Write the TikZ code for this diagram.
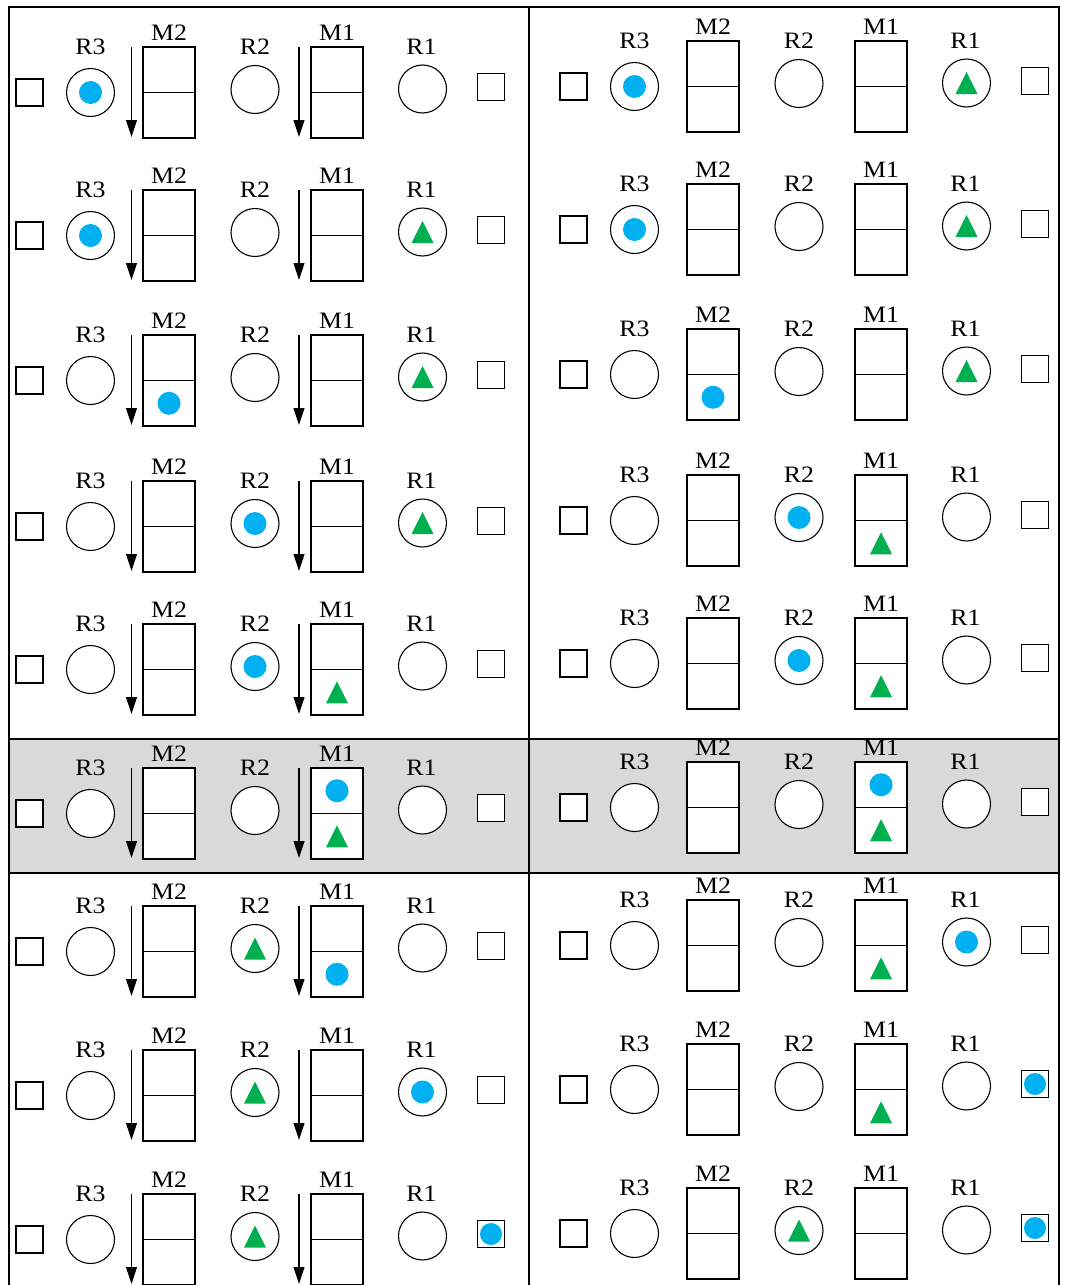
\documentclass[tikz,border=0pt]{standalone}
\usepackage{fontspec}
\setmainfont{Liberation Serif}
\newfontfamily\labfont[FakeStretch=1.1]{Liberation Serif}
\usetikzlibrary{arrows.meta}
\definecolor{bluec}{HTML}{00B0F0}
\definecolor{greenc}{HTML}{00B050}
\definecolor{bandgray}{HTML}{D9D9D9}
\tikzset{
  lw/.style={line width=1.1pt},
  sqbox/.style={lw, draw, fill=white, minimum size=27pt, inner sep=0pt},
  ring/.style={lw, draw, fill=white, circle, minimum size=48pt, inner sep=0pt},
  mcell/.style={lw, draw, fill=white, minimum width=52pt, minimum height=45.5pt, inner sep=0pt},
  lab/.style={anchor=base, inner sep=0pt, font=\labfont\fontsize{23.5}{25}\selectfont},
  flow/.style={lw, -{Triangle[length=17pt,width=11pt]}},
  frame/.style={line width=1.1pt}
}
\newcommand\bdot[1]{\fill[bluec] (#1) circle[radius=11.5];}
\newcommand\sdot[1]{\fill[bluec] (#1) circle[radius=11];}
\newcommand\gtri[1]{\fill[greenc] (#1) ++(0,-11) -- ++(11,22) -- ++(-22,0) -- cycle;}
\newcommand\panel[4]{%
 \begin{scope}[shift={(#2,#3)}]
  \node[sqbox] (#1sqA) at (29.5,45.5) {};
  \node[ring] (#1R3) at (90.5,45.5) {};
  \node[lab] (#1R3t) at (90.5,7) {R3};
  \node[mcell] (#1M2u) at (169,22.75) {};
  \node[mcell] (#1M2d) at (169,68.25) {};
  \node[lab] (#1M2t) at (169,-6.5) {M2};
  \node[ring] (#1R2) at (255,42.5) {};
  \node[lab] (#1R2t) at (255,7) {R2};
  \node[mcell] (#1M1u) at (337,22.75) {};
  \node[mcell] (#1M1d) at (337,68.25) {};
  \node[lab] (#1M1t) at (337,-6.5) {M1};
  \node[ring] (#1R1) at (422.5,42) {};
  \node[lab] (#1R1t) at (421.5,7) {R1};
  \node[sqbox] (#1sqB) at (491,40) {};
  \ifnum#4=1
   \coordinate (#1a2s) at (131.5,0);
   \coordinate (#1a2e) at (131.5,90);
   \coordinate (#1a1s) at (299,0);
   \coordinate (#1a1e) at (299,90);
   \draw[flow] (#1a2s) -- (#1a2e);
   \draw[flow] (#1a1s) -- (#1a1e);
  \fi
 \end{scope}}
\begin{document}
\begin{tikzpicture}[x=1pt,y=-1pt]
\useasboundingbox (0,0) rectangle (1065,1285);
% band and frame
\fill[bandgray] (9,739) rectangle (1059,873);
\coordinate (tl) at (9,7); \coordinate (tr) at (1059,7);
\coordinate (bl) at (9,1285); \coordinate (br) at (1059,1285);
\coordinate (tm) at (529,7); \coordinate (bm) at (529,1285);
\coordinate (g1l) at (9,739); \coordinate (g1r) at (1059,739);
\coordinate (g2l) at (9,873); \coordinate (g2r) at (1059,873);
\draw[frame] (bl) -- (tl) -- (tr) -- (br);
\draw[frame] (tm) -- (bm);
\draw[frame] (g1l) -- (g1r);
\draw[frame] (g2l) -- (g2r);
% left column
\panel{A1}{0}{47}{1}
\panel{A2}{0}{190}{1}
\panel{A3}{0}{335}{1}
\panel{A4}{0}{481}{1}
\panel{A5}{0}{624}{1}
\panel{A6}{0}{768}{1}
\panel{A7}{0}{906}{1}
\panel{A8}{0}{1050}{1}
\panel{A9}{0}{1194}{1}
% right column
\panel{B1}{544}{41}{0}
\panel{B2}{544}{184}{0}
\panel{B3}{544}{329}{0}
\panel{B4}{544}{475}{0}
\panel{B5}{544}{618}{0}
\panel{B6}{544}{762}{0}
\panel{B7}{544}{900}{0}
\panel{B8}{544}{1044}{0}
\panel{B9}{544}{1188}{0}
% tokens
\bdot{A1R3}
\bdot{B1R3} \gtri{B1R1}
\bdot{A2R3} \gtri{A2R1}
\bdot{B2R3} \gtri{B2R1}
\bdot{A3M2d} \gtri{A3R1}
\bdot{B3M2d} \gtri{B3R1}
\bdot{A4R2} \gtri{A4R1}
\bdot{B4R2} \gtri{B4M1d}
\bdot{A5R2} \gtri{A5M1d}
\bdot{B5R2} \gtri{B5M1d}
\bdot{A6M1u} \gtri{A6M1d}
\bdot{B6M1u} \gtri{B6M1d}
\gtri{A7R2} \bdot{A7M1d}
\gtri{B7M1d} \bdot{B7R1}
\gtri{A8R2} \bdot{A8R1}
\gtri{B8M1d} \sdot{B8sqB}
\gtri{A9R2} \sdot{A9sqB}
\gtri{B9R2} \sdot{B9sqB}
\end{tikzpicture}
\end{document}
